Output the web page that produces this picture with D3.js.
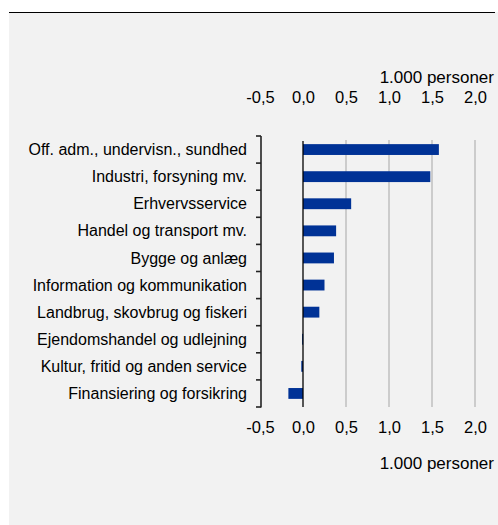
<!DOCTYPE html>
<html>
<head>
<meta charset="utf-8">
<script src="https://cdn.jsdelivr.net/npm/d3@7/dist/d3.min.js"></script>
<style>
  html, body { margin: 0; padding: 0; background: #ffffff; }
  svg { display: block; font-family: "Liberation Sans", Arial, sans-serif; }
</style>
</head>
<body>
<svg id="chart" width="498" height="525"></svg>
<script>
// Change in employment by industry, 1.000 persons
const categories = [
  "Off. adm., undervisn., sundhed",
  "Industri, forsyning mv.",
  "Erhvervsservice",
  "Handel og transport mv.",
  "Bygge og anlæg",
  "Information og kommunikation",
  "Landbrug, skovbrug og fiskeri",
  "Ejendomshandel og udlejning",
  "Kultur, fritid og anden service",
  "Finansiering og forsikring"
];
const values = [1.58, 1.48, 0.56, 0.385, 0.36, 0.25, 0.19, -0.01, -0.02, -0.17];
const xTicks = [-0.5, 0.0, 0.5, 1.0, 1.5, 2.0];
const unitLabel = "1.000 personer";

const svg = d3.select("#chart");
const fmt = v => d3.format(".1f")(v).replace(".", ",").replace("−", "-");

// panel background and top rule
svg.append("rect").attr("x", 9).attr("y", 12).attr("width", 489).attr("height", 513).attr("fill", "#f2f2f2");
svg.append("line").attr("x1", 9).attr("x2", 495).attr("y1", 12.5).attr("y2", 12.5)
  .attr("stroke", "#000").attr("stroke-width", 1.2);

const x = d3.scaleLinear().domain([-0.5, 2.0]).range([260, 475]);
const y = d3.scaleBand().domain(categories).range([136, 407]).padding(0);
const bw = y.bandwidth();

// vertical gridlines
svg.append("g").selectAll("line").data(xTicks.filter(t => t > 0)).join("line")
  .attr("x1", d => x(d)).attr("x2", d => x(d))
  .attr("y1", 140).attr("y2", 407)
  .attr("stroke", "#a6a6a6").attr("stroke-width", 1);

// bars
svg.append("g").selectAll("rect").data(values).join("rect")
  .attr("x", d => x(Math.min(0, d)))
  .attr("width", d => Math.max(1, Math.abs(x(d) - x(0))))
  .attr("y", (d, i) => y(categories[i]) + bw * 0.3)
  .attr("height", bw * 0.4)
  .attr("fill", "#003296");

// zero line
svg.append("line").attr("x1", x(0)).attr("x2", x(0)).attr("y1", 141).attr("y2", 407)
  .attr("stroke", "#000").attr("stroke-width", 1.3);

// category axis with boundary ticks
const yAxisX = 261;
svg.append("line").attr("x1", yAxisX).attr("x2", yAxisX).attr("y1", 136).attr("y2", 407.5)
  .attr("stroke", "#222").attr("stroke-width", 1.6);
const bounds = categories.map(c => y(c)).concat([407]);
svg.append("g").selectAll("line").data(bounds).join("line")
  .attr("x1", yAxisX - 5).attr("x2", yAxisX).attr("y1", d => d).attr("y2", d => d)
  .attr("stroke", "#222").attr("stroke-width", 1.6);

svg.append("g").selectAll("text").data(categories).join("text")
  .attr("x", 247).attr("y", d => y(d) + bw / 2)
  .attr("dy", "0.35em").attr("text-anchor", "end")
  .style("font-size", "16px").attr("fill", "#000").text(d => d);

// value axes, top and bottom
const topAxis = d3.axisTop(x).tickValues(xTicks).tickSize(0).tickPadding(0).tickFormat(fmt);
const gTop = svg.append("g").attr("transform", "translate(0,103)").call(topAxis);
const gBot = svg.append("g").attr("transform", "translate(0,433)").call(topAxis);
[gTop, gBot].forEach(g => {
  g.select(".domain").remove();
  g.attr("font-size", null).attr("font-family", null);
  g.selectAll("text").style("font-size", "16.5px").attr("fill", "#000");
});

svg.append("text").attr("x", 494).attr("y", 83).attr("text-anchor", "end")
  .style("font-size", "17px").attr("fill", "#000").text(unitLabel);
svg.append("text").attr("x", 494).attr("y", 469).attr("text-anchor", "end")
  .style("font-size", "17px").attr("fill", "#000").text(unitLabel);
</script>
</body>
</html>
